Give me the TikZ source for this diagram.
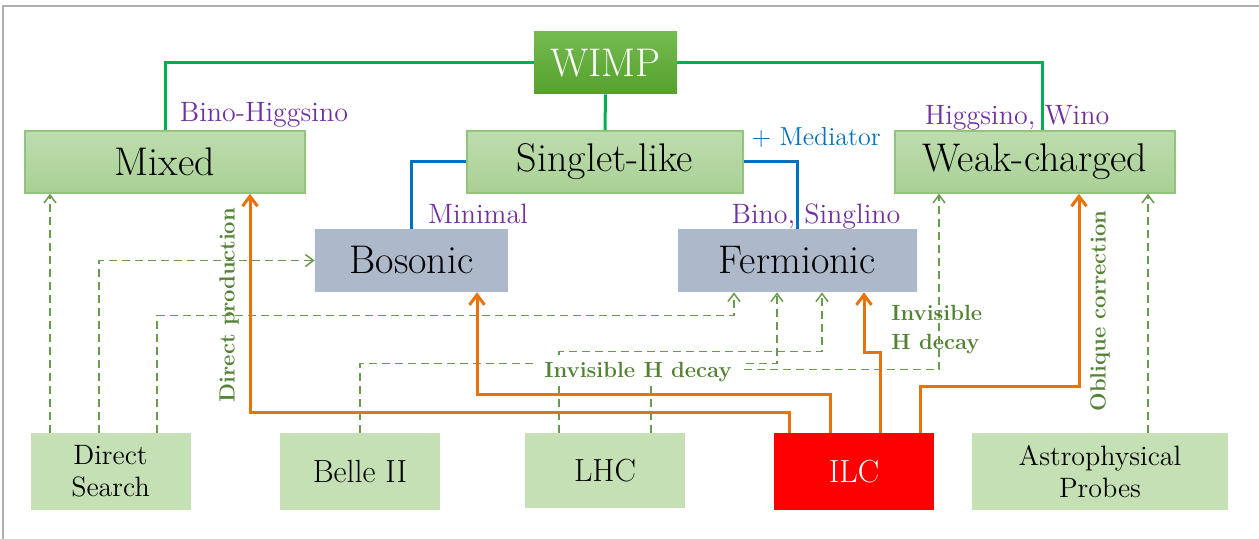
\documentclass[tikz,border=0pt]{standalone}
\usepackage{fontspec}
\usetikzlibrary{arrows.meta}

\definecolor{framegray}{HTML}{B0B0B0}
\definecolor{wimpline}{HTML}{00B050}
\definecolor{wimptop}{HTML}{74BB4E}
\definecolor{wimpbot}{HTML}{55A02E}
\definecolor{classtop}{HTML}{BEDDAE}
\definecolor{classbot}{HTML}{A9D095}
\definecolor{classline}{HTML}{93C47D}
\definecolor{spinfill}{HTML}{ADB9CA}
\definecolor{expfill}{HTML}{C5E0B4}
\definecolor{ilcred}{HTML}{FF0000}
\definecolor{ilcorange}{HTML}{E8730C}
\definecolor{probegreen}{HTML}{6A9A4B}
\definecolor{hintgreen}{HTML}{548235}
\definecolor{purple}{HTML}{7030A0}
\definecolor{medblue}{HTML}{0070C0}

\tikzset{
  wimpbox/.style={top color=wimptop, bottom color=wimpbot, text=white,
    minimum width=71.5pt, minimum height=31pt, font=\fontsize{20}{24}\selectfont},
  classbox/.style={draw=classline, line width=0.8pt, top color=classtop, bottom color=classbot,
    minimum width=140pt, minimum height=31pt, font=\fontsize{20}{24}\selectfont},
  spinbox/.style={fill=spinfill, minimum height=31.5pt, font=\fontsize{20}{24}\selectfont},
  expbox/.style={fill=expfill, minimum width=80pt, minimum height=38.5pt, align=center,
    font=\fontsize{16}{18}\selectfont},
  twoline/.style={font=\fontsize{14}{16}\selectfont},
  coupling/.style={text=purple, inner sep=1pt, font=\fontsize{14}{16}\selectfont},
  hint/.style={text=hintgreen, inner sep=1pt, font=\fontsize{11}{14.5}\selectfont\bfseries},
  wimpline/.style={draw=wimpline, line width=1.5pt},
  medline/.style={draw=medblue, line width=1.5pt},
  ilcarrow/.style={draw=ilcorange, line width=1.5pt, -{Straight Barb[length=5pt,width=7.5pt]}},
  probe/.style={draw=probegreen, line width=0.75pt, dash pattern=on 4pt off 2.5pt,
    -{Straight Barb[length=4pt,width=6pt]}},
}

\begin{document}
\begin{tikzpicture}[x=0.5pt,y=-0.5pt]
    \useasboundingbox (0,0) rectangle (1259,539);
    \draw[framegray, line width=1pt] (3,539) -- (3,6) -- (1259,6);

    % dark matter classes
    \node[wimpbox] (wimp) at (605.5,63) {WIMP};
    \node[classbox] (mixed) at (165,162) {Mixed};
    \node[classbox, minimum width=138pt] (singlet) at (605,162) {Singlet-like};
    \node[classbox] (weak) at (1035,162) {Weak-charged};
    \node[spinbox, minimum width=96.5pt] (bosonic) at (411.5,260.5) {Bosonic};
    \node[spinbox, minimum width=119.5pt] (fermionic) at (797.5,260.5) {Fermionic};

    % experiments
    \node[expbox, twoline] (direct) at (110.5,471.5) {Direct\\Search};
    \node[expbox] (belle) at (360,471.5) {Belle II};
    \node[expbox, minimum height=37.5pt] (lhc) at (605,470.5) {LHC};
    \node[expbox, fill=ilcred, text=white] (ilc) at (854,471.5) {ILC};
    \node[expbox, twoline, minimum width=128pt] (astro) at (1100,471.5) {Astrophysical\\Probes};

    % probes
    \draw[probe] ([xshift=-30.25pt]direct.north) coordinate (ds1) -- (ds1 |- mixed.south);
    \draw[probe] ([xshift=-5.75pt]direct.north) |- (bosonic.west);
    \draw[probe] ([xshift=23.25pt]direct.north) -- ++(0,-117) -| ([xshift=-31.75pt]fermionic.south);
    \draw[probe] (belle.north) -- ++(0,-69) -| ([xshift=-10.25pt]fermionic.south);
    \draw[probe] ([xshift=-23pt]lhc.north) -- ++(0,-81) -| ([xshift=12.25pt]fermionic.south);
    \draw[probe] ([xshift=23pt]lhc.north) -- ++(0,-63) -| ([xshift=-48pt]weak.south);
    \draw[probe] ([xshift=24pt]astro.north) coordinate (ap1) -- (ap1 |- weak.south);
    \node[hint, fill=white, inner xsep=5pt] (invis) at (638,372) {Invisible H decay};

    % ILC
    \draw[ilcarrow] ([xshift=-32.5pt]ilc.north) -- ++(0,-20) -| ([xshift=42.5pt]mixed.south);
    \draw[ilcarrow] ([xshift=-12pt]ilc.north) -- ++(0,-38) -| ([xshift=32.75pt]bosonic.south);
    \draw[ilcarrow] ([xshift=13pt]ilc.north) -- ++(0,-80) -| ([xshift=33.25pt]fermionic.south);
    \draw[ilcarrow] ([xshift=33pt]ilc.north) -- ++(0,-46) -| ([xshift=22pt]weak.south);

    \draw[wimpline] (wimp.west) -| (mixed.north);
    \draw[wimpline] (wimp.east) -| ([xshift=3.5pt]weak.north);
    \draw[wimpline] (wimp.south) -- (singlet.north);
    \draw[medline] (singlet.west) -| (bosonic.north);
    \draw[medline] (singlet.east) -| (fermionic.north);

    % labels
    \node[coupling] (binohiggsino) at (264,115) {Bino-Higgsino};
    \node[coupling] (minimal) at (478,214) {Minimal};
    \node[coupling, text=medblue, font=\fontsize{13}{15}\selectfont] (mediator) at (816,137) {+ Mediator};
    \node[coupling] (binosinglino) at (816,217) {Bino, Singlino};
    \node[coupling] (higgsinowino) at (1017,118) {Higgsino, Wino};
    \node[hint, anchor=west, align=left] (invisright) at (889,330) {Invisible\\H decay};
    \node[hint, rotate=90] (directprod) at (229,305) {Direct production};
    \node[hint, rotate=90] (oblique) at (1100,311) {Oblique correction};
\end{tikzpicture}
\end{document}
